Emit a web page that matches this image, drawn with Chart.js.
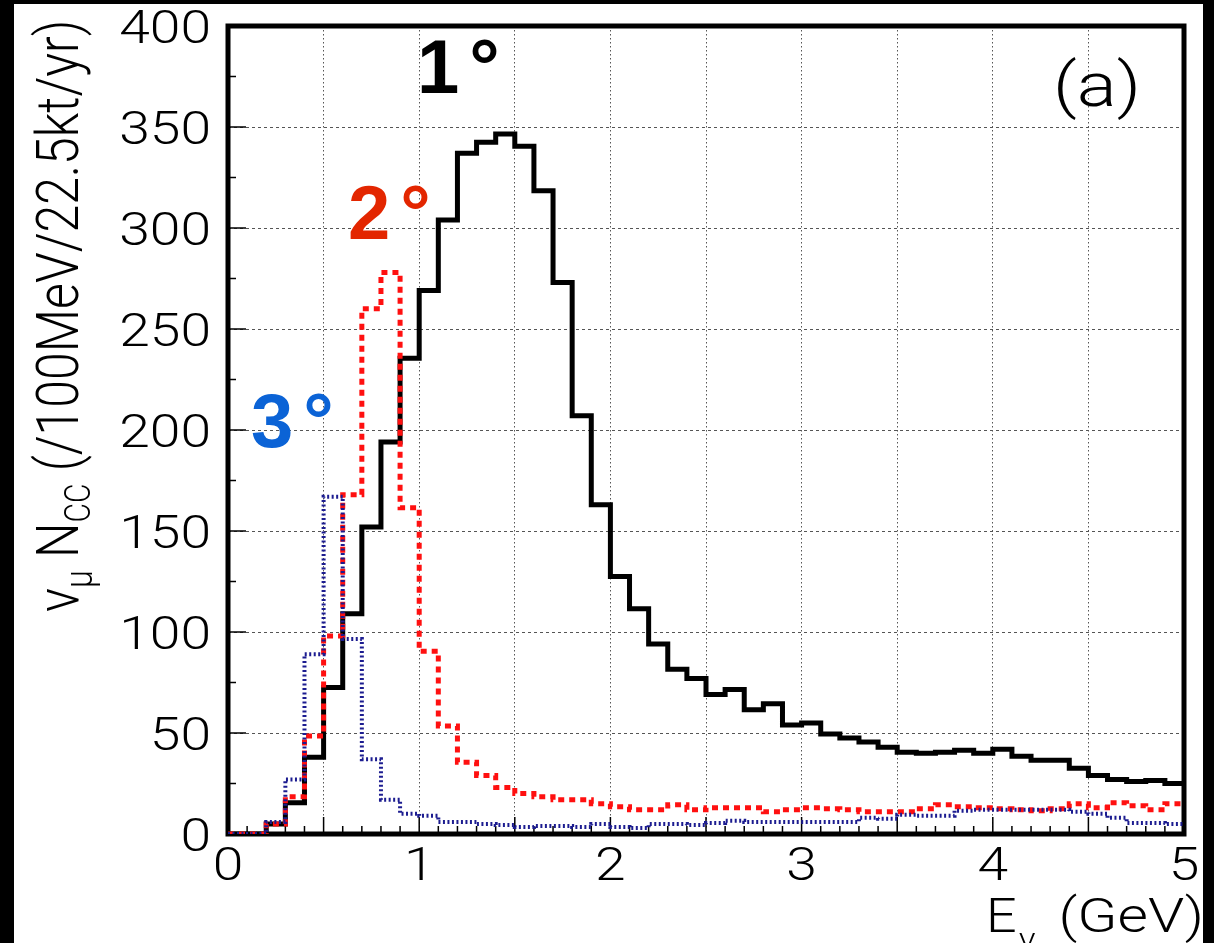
<!DOCTYPE html>
<html>
<head>
<meta charset="utf-8">
<title>numu CC spectrum</title>
<script src="https://cdn.jsdelivr.net/npm/chart.js@4.4.0/dist/chart.umd.min.js"></script>
<style>
  html, body { margin: 0; padding: 0; background: #fff; }
  #wrap { width: 1214px; height: 943px; }
</style>
</head>
<body>
<div id="wrap"><canvas id="spectrum" width="1214" height="943"></canvas></div>
<script>
// bin edges in GeV (0.1 GeV bins, last edge closes the histogram)
var binEdges = [0.0, 0.1, 0.2, 0.3, 0.4, 0.5, 0.6, 0.7, 0.8, 0.9,
                1.0, 1.1, 1.2, 1.3, 1.4, 1.5, 1.6, 1.7, 1.8, 1.9,
                2.0, 2.1, 2.2, 2.3, 2.4, 2.5, 2.6, 2.7, 2.8, 2.9,
                3.0, 3.1, 3.2, 3.3, 3.4, 3.5, 3.6, 3.7, 3.8, 3.9,
                4.0, 4.1, 4.2, 4.3, 4.4, 4.5, 4.6, 4.7, 4.8, 4.9, 5.0];

// events per bin
var offAxis1deg = [0, 0, 5, 15.5, 38, 72.5, 109, 152, 194, 235.5,
                   269, 304, 337, 342.5, 346.5, 340.5, 318.5, 273, 207, 163,
                   127.5, 111.5, 94, 81.5, 77, 69, 71.5, 61.5, 64.5, 54,
                   55, 49.5, 47.5, 45.5, 43, 40.5, 40, 40.5, 41.5, 40,
                   42, 38.5, 36.5, 36.5, 32.5, 29, 27, 26, 26.5, 25];

var offAxis2deg = [0, 0, 5, 18.5, 48.5, 98, 168, 260, 278, 161.5,
                   90.5, 53.5, 35.5, 29, 23, 20, 18.5, 17, 17, 15,
                   13.5, 12, 12, 14.5, 12, 13, 13, 13, 11, 12,
                   13, 12.5, 12, 11, 11, 11, 12.5, 14.5, 13.5, 13,
                   12.5, 12, 11.5, 12.5, 15, 13, 15.5, 14, 12, 15];

var offAxis3deg = [0, 0, 6, 27, 89, 167, 96.5, 37, 17, 10,
                   9, 6, 6, 5, 4.5, 3.5, 4, 4, 3.5, 5,
                   3.5, 3, 5, 5, 4.5, 5.5, 6.5, 6, 6, 6,
                   6, 6, 6, 8, 7.5, 9.5, 9, 9, 11.5, 12,
                   12, 12, 12, 12, 11, 10, 8, 5.5, 5.5, 5];

var yTickLabels = [0, 50, 100, 150, 200, 250, 300, 350, 400];
var xTickLabels = [0, 1, 2, 3, 4, 5];

// histogram -> step points at the lower bin edges, plus the closing edge
function toSteps(vals) {
    return binEdges.map(function(x, i) {
        return { x: x, y: vals[Math.min(i, vals.length - 1)] };
    });
}

var FONT = 'Roboto, "Liberation Sans", Arial, sans-serif';
var BOLD_FONT = '"Liberation Sans", Arial, sans-serif';
var STRETCH = 1.2; // the original lettering is wide

function wideText(ctx, txt, x, y, size, align, sx) {
    sx = sx || STRETCH;
    ctx.save();
    ctx.translate(x, y);
    ctx.scale(sx, 1);
    ctx.font = '300 ' + size + 'px ' + FONT;
    ctx.textAlign = align || 'left';
    ctx.textBaseline = 'alphabetic';
    ctx.fillText(txt, 0, 0);
    var w = ctx.measureText(txt).width * sx;
    ctx.restore();
    return w;
}

// page background with the dark margins of the scan
var backdrop = {
    id: 'backdrop',
    beforeDraw: function(chart) {
        var ctx = chart.ctx;
        ctx.save();
        ctx.fillStyle = '#000';
        ctx.fillRect(0, 0, chart.width, chart.height);
        ctx.fillStyle = '#fff';
        ctx.fillRect(14, 4, 1203 - 14, chart.height - 4);
        ctx.restore();
    }
};

// frame, inner ticks and all lettering
var decorations = {
    id: 'decorations',
    beforeDatasetsDraw: function(chart) {
        var ctx = chart.ctx, a = chart.chartArea;
        var xs = chart.scales.x, ys = chart.scales.y;
        ctx.save();
        ctx.strokeStyle = '#000';
        ctx.lineWidth = 1.5;
        ctx.beginPath();
        for (var i = 0; i <= 50; i++) {
            var px = xs.getPixelForValue(i / 10);
            var len = (i % 5 === 0) ? 17 : 8;
            ctx.moveTo(px, a.bottom);
            ctx.lineTo(px, a.bottom - len);
        }
        for (var j = 0; j <= 16; j++) {
            var py = ys.getPixelForValue(j * 25);
            var l2 = (j % 2 === 0) ? 18 : 8;
            ctx.moveTo(a.left, py);
            ctx.lineTo(a.left + l2, py);
        }
        ctx.stroke();
        ctx.lineWidth = 5;
        ctx.strokeRect(a.left, a.top, a.right - a.left, a.bottom - a.top);
        ctx.restore();
    },
    afterDraw: function(chart) {
        var ctx = chart.ctx;
        var xs = chart.scales.x, ys = chart.scales.y;
        ctx.save();
        ctx.fillStyle = '#000';

        // tick labels
        yTickLabels.forEach(function(v) {
            wideText(ctx, String(v), 211, ys.getPixelForValue(v) + 17, 46, 'right');
        });
        xTickLabels.forEach(function(v) {
            wideText(ctx, String(v), xs.getPixelForValue(v), 880, 46, 'center');
        });

        // x title
        var x0 = 986;
        x0 += wideText(ctx, 'E', x0, 932, 49, 'left', 1.1);
        wideText(ctx, '\u03bd', x0 + 2, 950, 32, 'left', 1.1);
        wideText(ctx, '(GeV)', 1204, 932, 49, 'right', 1.2);

        // y title, rotated
        ctx.save();
        ctx.translate(78, 612);
        ctx.rotate(-Math.PI / 2);
        ctx.scale(1, STRETCH);
        var runs = [
            { t: '\u03bd', s: 50, dy: 0 },
            { t: '\u03bc', s: 32, dy: 12 },
            { t: ' N', s: 50, dy: 0 },
            { t: 'CC', s: 30, dy: 10 },
            { t: ' (/100MeV/22.5kt/yr)', s: 50, dy: 0 }
        ];
        var cx = 0;
        runs.forEach(function(r) {
            ctx.font = '300 ' + r.s + 'px ' + FONT;
            ctx.fillText(r.t, cx, r.dy);
            cx += ctx.measureText(r.t).width;
        });
        ctx.restore();

        // curve labels
        ctx.letterSpacing = '10px';
        ctx.font = 'bold 76px ' + BOLD_FONT;
        ctx.fillStyle = '#000';
        ctx.fillText('1\u00b0', 417, 93);
        ctx.fillStyle = '#e32600';
        ctx.fillText('2\u00b0', 348, 239);
        ctx.fillStyle = '#0b63d6';
        ctx.fillText('3\u00b0', 251, 447);
        ctx.letterSpacing = '0px';

        ctx.fillStyle = '#000';
        wideText(ctx, '(a)', 1053, 106, 62);
        ctx.restore();
    }
};

var ctx = document.getElementById('spectrum').getContext('2d');
new Chart(ctx, {
    type: 'line',
    data: {
        datasets: [{
            label: '1 deg',
            data: toSteps(offAxis1deg),
            borderColor: '#000000',
            borderWidth: 5,
            stepped: true,
            order: 2
        }, {
            label: '2 deg',
            data: toSteps(offAxis2deg),
            borderColor: '#ff1010',
            borderWidth: 5,
            borderDash: [6, 5],
            stepped: true,
            order: 1
        }, {
            label: '3 deg',
            data: toSteps(offAxis3deg),
            borderColor: '#1c1c90',
            borderWidth: 4,
            borderDash: [2, 2.5],
            stepped: true,
            order: 0
        }]
    },
    options: {
        responsive: false,
        animation: false,
        devicePixelRatio: 1,
        layout: { padding: { left: 0, top: 26, right: 30, bottom: 0 } },
        elements: { point: { radius: 0 }, line: { tension: 0 } },
        plugins: { legend: { display: false }, tooltip: { enabled: false } },
        scales: {
            x: {
                type: 'linear', min: 0, max: 5,
                ticks: { display: false, stepSize: 0.5 },
                grid: { color: '#555', lineWidth: 1, drawTicks: false },
                border: { display: false, dash: [1.5, 2.5] },
                afterFit: function(s) { s.height = 109; }
            },
            y: {
                min: 0, max: 400,
                ticks: { display: false, stepSize: 50 },
                grid: { color: '#555', lineWidth: 1, drawTicks: false },
                border: { display: false, dash: [3, 3] },
                afterFit: function(s) { s.width = 228; }
            }
        }
    },
    plugins: [backdrop, decorations]
});
</script>
</body>
</html>
